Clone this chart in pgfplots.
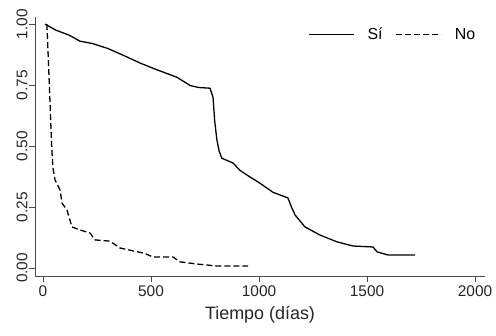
\documentclass[border=0pt]{standalone}
\usepackage{pgfplots}
\pgfplotsset{compat=1.18}
\usepackage{fontspec}
\setmainfont{Liberation Sans}
\begin{document}
\begin{tikzpicture}[x=1bp,y=1bp]
\begin{axis}[
  scale only axis,
  width=450bp, height=259bp,
  xmin=-37, xmax=2046,
  ymin=-0.033, ymax=1.029,
  axis lines*=left,
  axis line style={-, draw=black!70, line width=0.9pt},
  tick style={draw=black!70, line width=0.8pt},
  tick align=outside,
  major tick length=6bp,
  xtick={0,500,1000,1500,2000},
  xticklabels={0,500,1000,1500,2000},
  ytick={0,0.25,0.5,0.75,1},
  yticklabels={0.00,0.25,0.50,0.75,1.00},
  yticklabel style={rotate=90, anchor=south, yshift=-2bp},
  /pgf/number format/assume math mode=true,
  ticklabel style={font=\fontsize{15.5}{17}\selectfont, text=black!85},
  xlabel={Tiempo (días)},
  xlabel style={font=\fontsize{18}{20}\selectfont, text=black!85, yshift=-3bp},
  legend columns=2,
  legend style={draw=none, fill=none, at={(rel axis cs:0.99,0.975)}, anchor=north east,
    font=\fontsize{16}{18}\selectfont, column sep=11bp},
  legend image code/.code={\draw[#1] (0bp,0bp) -- (45bp,0bp);},
  clip=false,
]
\addplot[black, line width=1.3pt] coordinates {
(9,1.0) (60,0.975) (120,0.955) (171,0.93) (230,0.92) (300,0.9) (389,0.865) (450,0.84) (520,0.815) (620,0.782) (681,0.748) (720,0.74) (773,0.737)
(787,0.70) (795,0.60) (805,0.525) (815,0.48) (828,0.45) (880,0.43) (912,0.40) (958,0.373) (1000,0.35) (1065,0.31) (1134,0.287)
(1150,0.25) (1167,0.217) (1213,0.168) (1282,0.135) (1361,0.107) (1435,0.09) (1528,0.086) (1546,0.066) (1597,0.053) (1722,0.053)
};
\addlegendentry{Sí}
\addplot[black, line width=1.3pt, dash pattern=on 6bp off 3bp] coordinates {
(18,1.0) (25,0.85) (32,0.69) (40,0.50) (46,0.41) (56,0.36) (79,0.32) (88,0.266) (111,0.238) (134,0.168) (171,0.156) (218,0.143) (241,0.115)
(310,0.11) (356,0.082) (417,0.07) (470,0.06) (509,0.045) (602,0.045) (634,0.025) (713,0.016) (806,0.008) (949,0.008)
};
\addlegendentry{No}
\coordinate (bb) at (rel axis cs:0,0);
\end{axis}
\path ([shift={(-35bp,-60bp)}]bb) rectangle ++(496bp,336bp);
\end{tikzpicture}
\end{document}
